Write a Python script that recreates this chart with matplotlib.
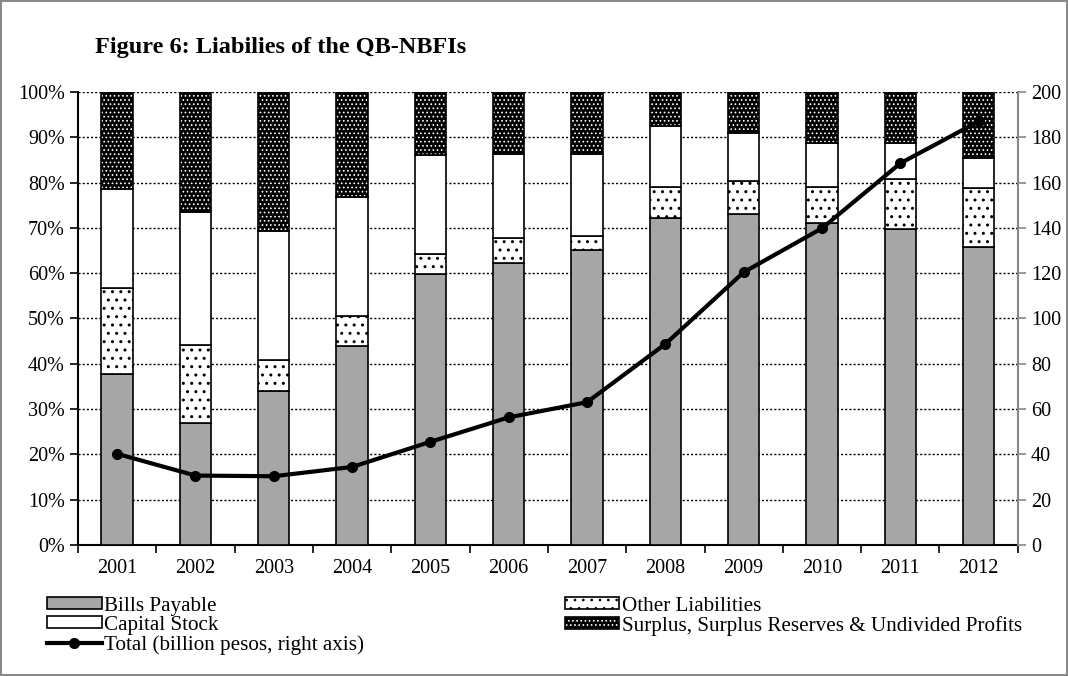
import numpy as np
import matplotlib
matplotlib.use('Agg')
import matplotlib.pyplot as plt
from matplotlib.patches import Patch
from matplotlib.lines import Line2D

plt.rcParams['font.family'] = ['Liberation Serif', 'DejaVu Serif']

# data (percent of total liabilities)
years = ['2001', '2002', '2003', '2004', '2005', '2006',
         '2007', '2008', '2009', '2010', '2011', '2012']
bills_payable = [37.8, 27.0, 34.0, 43.8, 59.8, 62.3, 65.0, 72.1, 73.0, 71.1, 69.7, 65.7]
other_liabilities = [19.0, 17.2, 6.8, 6.7, 4.5, 5.5, 3.3, 7.0, 7.3, 8.0, 11.0, 13.2]
capital_stock = [21.8, 29.4, 28.6, 26.2, 21.7, 18.4, 17.9, 13.4, 10.7, 9.7, 8.0, 6.5]
surplus = [21.4, 26.4, 30.6, 23.3, 14.0, 13.8, 13.8, 7.5, 9.0, 11.2, 11.3, 14.6]
total = [40.2, 30.6, 30.3, 34.4, 45.5, 56.3, 63.0, 88.7, 120.4, 139.8, 168.5, 187.0]

x = np.arange(len(years))
w = 0.4
fs = 14.5

fig = plt.figure(figsize=(10.68, 6.76), dpi=100)
fig.patch.set_edgecolor('#888888')
fig.patch.set_linewidth(1.5)
ax = fig.add_axes([0.073, 0.194, 0.880, 0.670])

b1 = np.array(bills_payable)
b2 = b1 + np.array(other_liabilities)
b3 = b2 + np.array(capital_stock)

ax.bar(x, bills_payable, w, color='#a6a6a6', edgecolor='black', linewidth=1.2, zorder=3)

# other liabilities: white with sparse black dots
plt.rcParams['hatch.linewidth'] = 1.0
ax.bar(x, other_liabilities, w, bottom=b1, color='white', edgecolor='black',
       hatch='..', linewidth=0, zorder=3)
other_hatch = Patch(facecolor='white', edgecolor='black', hatch='..', linewidth=0)
ax.bar(x, other_liabilities, w, bottom=b1, fill=False, edgecolor='black',
       linewidth=1.2, zorder=3)

ax.bar(x, capital_stock, w, bottom=b2, color='white', edgecolor='black',
       linewidth=1.2, zorder=3)

# surplus: black with dense white dots
plt.rcParams['hatch.linewidth'] = 0.7
ax.bar(x, surplus, w, bottom=b3, color='black', edgecolor='white',
       hatch='....', linewidth=0, zorder=3)
surplus_hatch = Patch(facecolor='black', edgecolor='white', hatch='....', linewidth=0)
ax.bar(x, surplus, w, bottom=b3, fill=False, edgecolor='black',
       linewidth=1.2, zorder=3)

ax.set_xlim(-0.5, len(years) - 0.5)
ax.set_ylim(0, 100)
ax.set_yticks(np.arange(0, 101, 10))
ax.set_yticklabels([f'{v}%' for v in range(0, 101, 10)])
ax.yaxis.grid(True, linestyle=(0, (1.5, 1.5)), color='black', linewidth=1)
ax.set_axisbelow(True)

ax.set_xticks(x)
ax.set_xticklabels(years)
ax.set_xticks(np.arange(-0.5, len(years)), minor=True)
ax.tick_params(axis='x', which='major', length=0, labelsize=fs, pad=10)
ax.tick_params(axis='x', which='minor', length=6, width=1.2, direction='out')
ax.tick_params(axis='y', length=6, width=1.2, labelsize=fs, direction='out')

for s in ['left', 'bottom']:
    ax.spines[s].set_linewidth(1.5)
ax.spines['top'].set_visible(False)
ax.spines['right'].set_visible(False)

ax2 = ax.twinx()
ax2.plot(x, total, color='black', linewidth=3, marker='o', markersize=7, zorder=5)
ax2.set_ylim(0, 200)
ax2.set_yticks(np.arange(0, 201, 20))
ax2.tick_params(axis='y', length=6, width=1.2, labelsize=fs, color='#888888')
ax2.spines['right'].set_color('#888888')
ax2.spines['right'].set_linewidth(1.5)
for s in ['left', 'top', 'bottom']:
    ax2.spines[s].set_visible(False)

fig.text(0.089, 0.922, 'Figure 6: Liabilies of the QB-NBFIs',
         fontsize=17.5, fontweight='bold')

border = dict(fill=False, edgecolor='black', linewidth=1.2)
handles = [
    Patch(facecolor='#a6a6a6', edgecolor='black', linewidth=1.2),
    Patch(facecolor='white', edgecolor='black', linewidth=1.2),
    Line2D([], [], color='black', linewidth=3, marker='o', markersize=7),
    (other_hatch, Patch(**border)),
    (surplus_hatch, Patch(**border)),
]
labels = ['Bills Payable', 'Capital Stock', 'Total (billion pesos, right axis)',
          'Other Liabilities', 'Surplus, Surplus Reserves & Undivided Profits']
fig.legend(handles, labels, loc='upper left', bbox_to_anchor=(0.044, 0.117),
           ncol=2, frameon=False, fontsize=15.2, handlelength=2.6,
           handleheight=0.5, handletextpad=0.1, labelspacing=0.0,
           columnspacing=9.5, borderaxespad=0, borderpad=0)

fig.savefig('out.png', dpi=100)
